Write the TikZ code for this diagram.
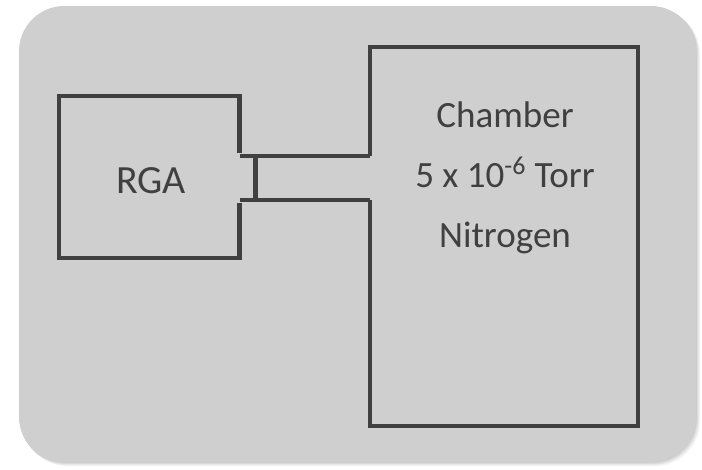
\documentclass[tikz,border=0pt]{standalone}
\usepackage{fontspec}
\setmainfont{Carlito}
\begin{document}
\begin{tikzpicture}[x=0.75pt,y=-0.75pt,
  wall/.style={draw=linegray,line width=3.2pt},
  label/.style={text=linegray,font=\fontsize{27.8}{32}\selectfont,anchor=base,inner sep=0pt},
  biglabel/.style={label,font=\fontsize{30}{34}\selectfont}]
\definecolor{linegray}{HTML}{404040}
\definecolor{panel}{HTML}{CFCFCF}
\useasboundingbox (0,0) rectangle (702,469);
\fill[white] (0,0) rectangle (702,469);
% soft shadow
\foreach \i/\c in {7/97,6/95,5/92,4/89,3/86,2/83,1/80}{
  \fill[black!\the\numexpr100-\c\relax!white,rounded corners=34pt] (19+\i*0.5,6+\i*0.5) rectangle (696+\i*0.6,462+\i*0.6);
}
\fill[panel,rounded corners=34pt] (19,6) rectangle (696,462);
% named anchors
\coordinate (rgaNW) at (59,96);
\coordinate (rgaSE) at (239.5,258);
\coordinate (chNW) at (370,47);
\coordinate (chSE) at (638,426);
\coordinate (tubeT) at (239.5,156);
\coordinate (tubeB) at (239.5,200);
\coordinate (chT) at (370,156);
\coordinate (chB) at (370,200);
\coordinate (flT) at (255.5,156);
\coordinate (flB) at (255.5,200);
% RGA
\draw[wall] (239.5,153) |- (rgaNW) |- (rgaSE) -- (239.5,203);
% Chamber
\draw[wall] (chT) |- (chNW) -| (chSE) -| (chB);
% tube
\draw[wall] (tubeT) -- (chT);
\draw[wall] (tubeB) -- (chB);
\draw[wall] (flT) -- (flB);
% texts
\node[biglabel] (rga) at (151,193) {RGA};
\node[label] (chamber) at (505,127) {Chamber};
\node[label] (press) at (505,187) {5 x 10\textsuperscript{-6} Torr};
\node[label] (gas) at (505,247) {Nitrogen};
\end{tikzpicture}
\end{document}
